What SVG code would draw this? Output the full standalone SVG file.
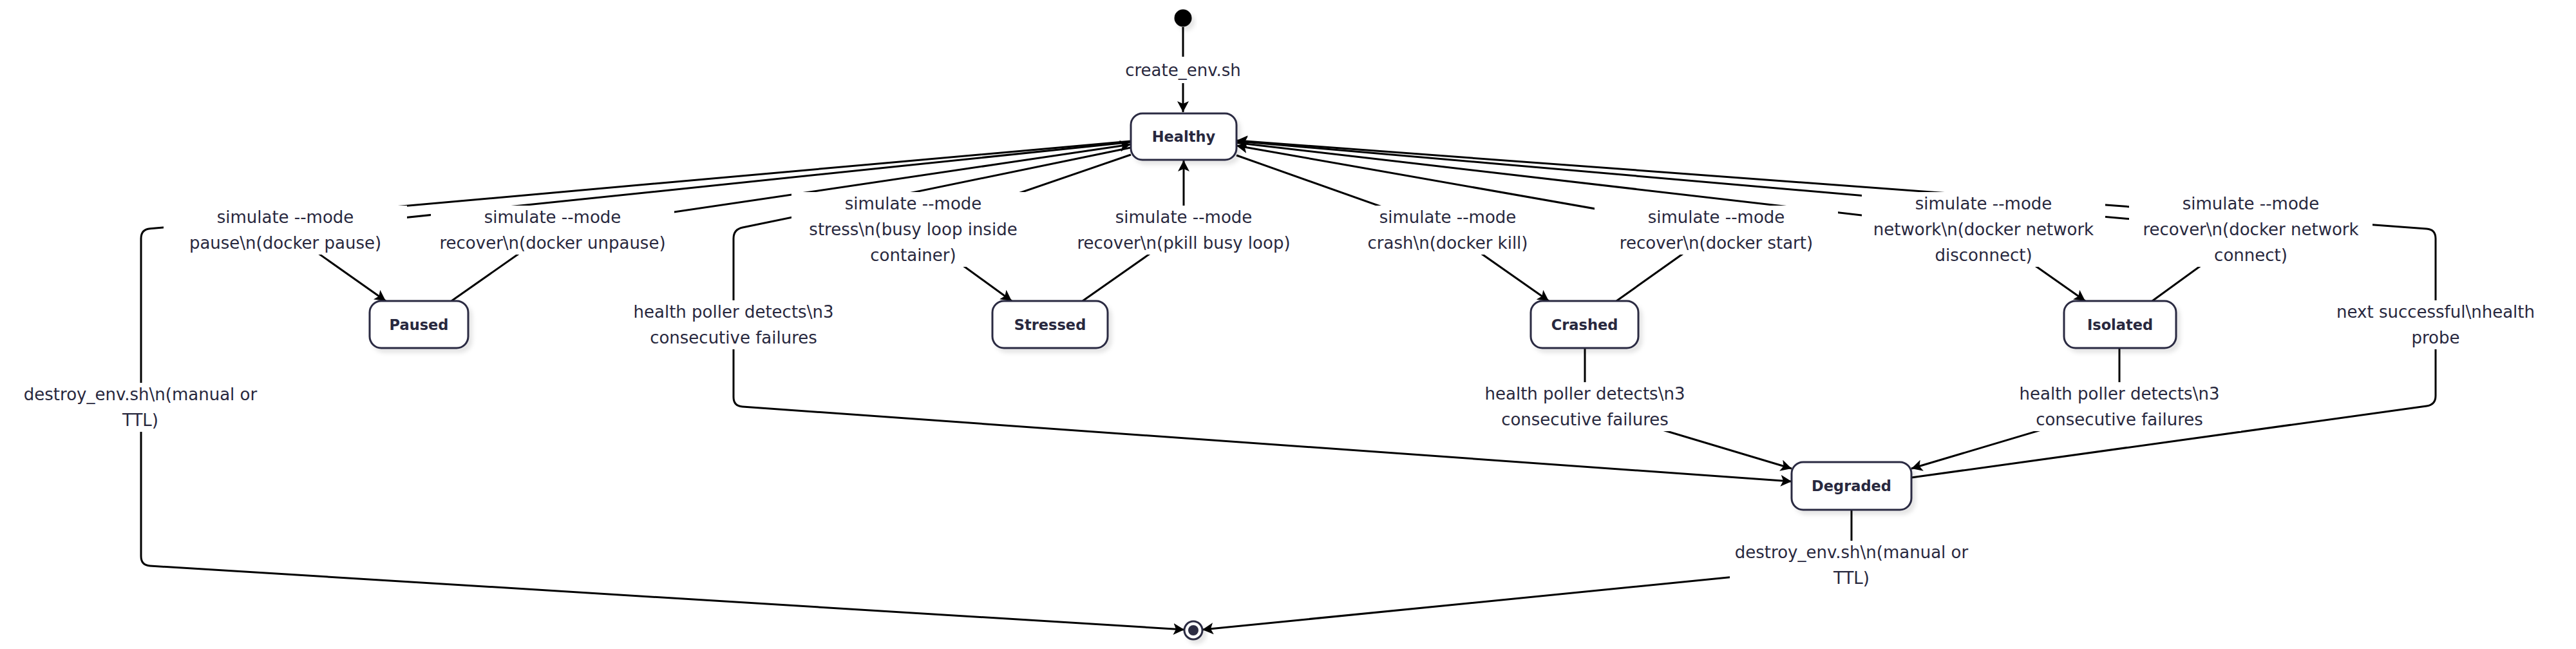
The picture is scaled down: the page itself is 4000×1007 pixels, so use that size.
<svg xmlns="http://www.w3.org/2000/svg" width="4000" height="1007" viewBox="0 0 4000 1007">
<style>
.edge{fill:none;stroke:#000;stroke-width:3;marker-end:url(#arrow)}
.node rect{fill:#fff;stroke:#2b2b42;stroke-width:3;filter:url(#shadow)}
.node text{font-family:"DejaVu Sans",sans-serif;font-weight:bold;font-size:22.5px;fill:#28283e;text-anchor:middle;dominant-baseline:central}
.lbl rect{fill:#fff}
.lbl text{font-family:"DejaVu Sans",sans-serif;font-size:26px;fill:#28283e;text-anchor:middle;dominant-baseline:central}
</style>
<defs>
<marker id="arrow" markerUnits="userSpaceOnUse" viewBox="0 0 18 18" markerWidth="18" markerHeight="18" refX="17" refY="9" orient="auto"><path d="M0,0 L17,9 L0,18 L4,9 Z" fill="#000"/></marker>
<filter id="shadow" x="-20%" y="-20%" width="150%" height="160%"><feDropShadow dx="5" dy="6" stdDeviation="3" flood-color="#000" flood-opacity="0.1"/></filter>
</defs>
<rect width="4000" height="1007" fill="#fff"/>
<g id="connectors">
<path class="edge" d="M1837,42 L1837,174"/>
<path class="edge" d="M1756,220.5 L443,357 L599,467"/>
<path class="edge" d="M701,467 L858,357 L1756,224"/>
<path class="edge" d="M1756,240 L1418,356 L1571,467"/>
<path class="edge" d="M1681,467 L1838,357 L1838,249"/>
<path class="edge" d="M1920,241 L2248,357 L2405,467"/>
<path class="edge" d="M2510,467 L2665,357 L1920,226"/>
<path class="edge" d="M1920,221.5 L3080,356 L3238,467"/>
<path class="edge" d="M3342,467 L3495,356 L1920,219"/>
<path class="edge" d="M2968,741 L3768,630 Q3782,628 3782,614 L3782,370 Q3782,356 3768,355 L1920,218"/>
<path class="edge" d="M1756,229 L1153,353 Q1139,356 1139,370 L1139,616 Q1139,630 1153,631 L2782,747"/>
<path class="edge" d="M2461,540 L2461,631 L2782,727"/>
<path class="edge" d="M3291,540 L3291,631 L2968,727"/>
<path class="edge" d="M2875,791 L2875,877 L1867,977"/>
<path class="edge" d="M1756,219 L233,354.8 Q219,356 219,370 L219,863 Q219,877 233,878 L1839,977"/>
</g>
<g id="edge-labels">
<g class="lbl"><rect x="1746" y="88" width="182" height="41"/><text x="1837" y="109">create_env.sh</text></g>
<g class="lbl"><rect x="254" y="319" width="378" height="76"/><text x="443" y="337">simulate --mode</text><text x="443" y="377">pause\n(docker pause)</text></g>
<g class="lbl"><rect x="669" y="319" width="378" height="76"/><text x="858" y="337">simulate --mode</text><text x="858" y="377">recover\n(docker unpause)</text></g>
<g class="lbl"><rect x="1229" y="298" width="378" height="116"/><text x="1418" y="316">simulate --mode</text><text x="1418" y="356">stress\n(busy loop inside</text><text x="1418" y="396">container)</text></g>
<g class="lbl"><rect x="1649" y="319" width="378" height="76"/><text x="1838" y="337">simulate --mode</text><text x="1838" y="377">recover\n(pkill busy loop)</text></g>
<g class="lbl"><rect x="2059" y="319" width="378" height="76"/><text x="2248" y="337">simulate --mode</text><text x="2248" y="377">crash\n(docker kill)</text></g>
<g class="lbl"><rect x="2476" y="319" width="378" height="76"/><text x="2665" y="337">simulate --mode</text><text x="2665" y="377">recover\n(docker start)</text></g>
<g class="lbl"><rect x="2891" y="298" width="378" height="116"/><text x="3080" y="316">simulate --mode</text><text x="3080" y="356">network\n(docker network</text><text x="3080" y="396">disconnect)</text></g>
<g class="lbl"><rect x="3306" y="298" width="378" height="116"/><text x="3495" y="316">simulate --mode</text><text x="3495" y="356">recover\n(docker network</text><text x="3495" y="396">connect)</text></g>
<g class="lbl"><rect x="3593" y="466" width="378" height="76"/><text x="3782" y="484">next successful\nhealth</text><text x="3782" y="524">probe</text></g>
<g class="lbl"><rect x="950" y="466" width="378" height="76"/><text x="1139" y="484">health poller detects\n3</text><text x="1139" y="524">consecutive failures</text></g>
<g class="lbl"><rect x="2272" y="593" width="378" height="76"/><text x="2461" y="611">health poller detects\n3</text><text x="2461" y="651">consecutive failures</text></g>
<g class="lbl"><rect x="3102" y="593" width="378" height="76"/><text x="3291" y="611">health poller detects\n3</text><text x="3291" y="651">consecutive failures</text></g>
<g class="lbl"><rect x="2686" y="839" width="378" height="76"/><text x="2875" y="857">destroy_env.sh\n(manual or</text><text x="2875" y="897">TTL)</text></g>
<g class="lbl"><rect x="29" y="594" width="378" height="76"/><text x="218" y="612">destroy_env.sh\n(manual or</text><text x="218" y="652">TTL)</text></g>
</g>
<g id="start"><circle cx="1837" cy="28" r="13.5" fill="#000" filter="url(#shadow)"/></g>
<g id="Healthy" class="node"><rect x="1756" y="176" width="164" height="72" rx="18"/><text x="1838" y="212">Healthy</text></g>
<g id="Paused" class="node"><rect x="574" y="467" width="153" height="73" rx="18"/><text x="650.5" y="503.5">Paused</text></g>
<g id="Stressed" class="node"><rect x="1541" y="467" width="179" height="73" rx="18"/><text x="1630.5" y="503.5">Stressed</text></g>
<g id="Crashed" class="node"><rect x="2377" y="467" width="167" height="73" rx="18"/><text x="2460.5" y="503.5">Crashed</text></g>
<g id="Isolated" class="node"><rect x="3205" y="467" width="174" height="73" rx="18"/><text x="3292" y="503.5">Isolated</text></g>
<g id="Degraded" class="node"><rect x="2782" y="717" width="186" height="74" rx="18"/><text x="2875" y="754">Degraded</text></g>
<g id="end"><circle cx="1853" cy="978" r="14" fill="#fff" stroke="#2b2b42" stroke-width="3" filter="url(#shadow)"/><circle cx="1853" cy="978" r="8" fill="#2b2b42"/></g>
</svg>
